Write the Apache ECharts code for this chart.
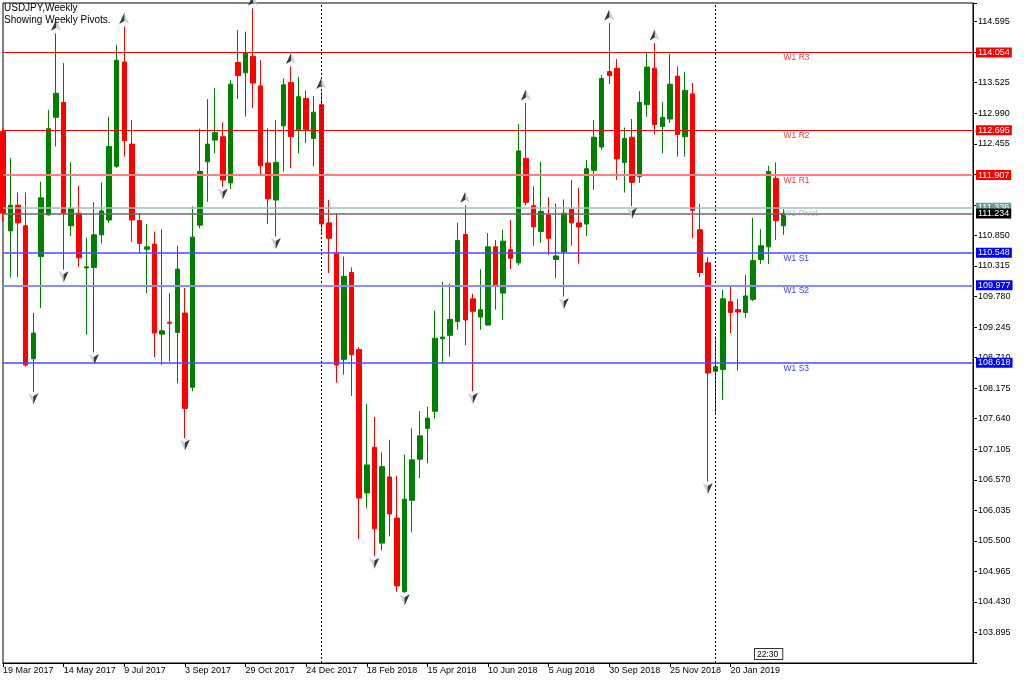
<!DOCTYPE html>
<html><head><meta charset="utf-8">
<script src="https://cdn.jsdelivr.net/npm/echarts@6.0.0/dist/echarts.min.js"></script>
<style>html,body{margin:0;padding:0;background:#fff}#c{width:1024px;height:683px}</style>
</head><body><div id="c"></div><script>
// ---- data ----
const weekCount = 129;
const xTickLabels = ['19 Mar 2017','14 May 2017','9 Jul 2017','3 Sep 2017','29 Oct 2017','24 Dec 2017','18 Feb 2018','15 Apr 2018','10 Jun 2018','5 Aug 2018','30 Sep 2018','25 Nov 2018','20 Jan 2019'];
const separatorWeeks = ['7 Jan 2018','6 Jan 2019'];
const yTickLabels = ['103.895','104.430','104.965','105.500','106.035','106.570','107.105','107.640','108.175','108.710','109.245','109.780','110.315','110.850','112.455','112.990','113.525','114.595'];

const open = [112.67,110.93,111.38,111.02,108.69,110.48,111.21,112.92,113.18,111.02,
111.24,110.28,110.29,110.86,111.12,112.06,113.89,112.45,111.11,110.61,
110.70,109.12,109.33,109.15,109.49,108.19,111.03,112.14,112.52,112.58,
111.77,113.88,113.70,113.99,113.47,112.12,111.47,112.77,113.53,112.70,
113.25,112.55,113.14,111.07,110.54,108.68,110.20,108.85,106.34,107.14,
105.46,106.62,105.90,104.61,106.21,106.93,107.47,107.77,109.04,109.10,
109.34,110.87,109.74,109.42,109.28,110.65,109.84,110.60,110.37,112.20,
111.37,110.92,111.21,110.43,110.56,111.31,111.07,111.05,111.99,112.40,
113.72,113.78,112.13,112.57,111.88,113.14,113.78,112.76,112.89,113.64,
112.58,113.33,110.95,110.37,108.47,108.50,109.69,109.55,109.50,109.73,
110.43,110.65,111.85,111.02];
const high = [112.73,112.21,111.60,111.60,109.49,111.79,113.05,114.39,113.87,112.13,
111.72,110.81,111.43,111.78,112.93,114.19,114.51,112.87,111.24,111.05,
110.92,110.96,109.84,110.67,109.93,111.36,112.72,113.24,113.43,112.83,
113.57,114.45,114.42,114.83,113.92,112.73,112.87,113.60,113.81,113.63,
113.39,113.29,113.37,111.47,111.24,110.48,110.29,108.89,107.90,107.67,
107.05,107.27,106.64,107.01,107.47,107.77,107.85,109.53,110.04,110.01,
111.07,111.38,109.83,110.26,110.89,110.77,110.95,111.12,112.80,113.17,
111.71,112.14,111.52,111.41,111.48,111.82,111.68,112.17,112.87,113.66,
114.57,113.94,112.74,112.89,113.38,114.06,114.22,113.19,114.03,113.81,
113.72,113.52,111.40,110.47,109.08,109.90,109.98,109.74,110.16,111.16,
110.96,112.07,112.13,111.31];
const low = [111.10,110.11,110.12,108.55,108.11,109.58,111.20,112.41,110.25,110.84,
110.30,109.11,108.80,110.71,111.07,112.03,112.23,110.74,110.54,109.84,
108.72,108.58,108.64,108.26,107.30,108.12,110.98,111.44,112.29,111.70,
111.66,113.24,112.93,113.08,111.91,111.05,110.83,111.97,112.03,112.29,
112.47,112.06,110.89,110.19,108.27,108.41,108.04,105.53,106.07,105.23,
105.33,105.58,104.61,104.59,105.65,106.60,106.86,107.64,108.62,108.73,
109.20,108.93,108.12,109.20,109.27,109.55,109.37,110.26,110.33,111.38,
110.67,110.72,110.51,110.10,109.78,110.67,110.36,110.84,111.65,112.35,
113.50,111.82,111.60,111.36,111.77,112.93,112.62,112.29,112.82,112.23,
112.23,110.80,110.12,106.54,107.74,107.97,109.14,108.48,109.41,109.70,
110.35,110.35,110.77,110.86];
const close = [111.24,111.38,111.07,108.58,109.14,111.51,112.72,113.34,111.24,111.32,
110.46,110.30,110.86,111.28,112.41,113.92,112.51,111.12,110.71,110.65,
109.14,109.18,109.31,110.26,107.82,110.82,111.97,112.45,112.65,111.82,
113.50,113.65,114.05,113.52,112.07,111.49,112.13,113.49,112.58,113.28,
112.70,113.01,111.05,110.80,108.58,110.13,108.76,106.25,106.83,105.71,
106.80,105.97,104.71,106.23,106.92,107.34,107.65,109.05,109.07,109.38,
110.76,109.37,109.52,109.55,110.65,109.97,110.75,110.45,112.33,111.43,
111.00,111.27,110.80,110.49,111.24,111.07,111.00,112.02,112.57,113.60,
113.65,112.19,112.55,111.78,113.18,113.80,112.79,112.92,113.50,112.62,
113.39,111.29,110.20,108.44,108.55,109.74,109.50,109.51,109.79,110.41,
110.67,111.97,111.11,111.234];

const fractalUp = [7,16,33,38,42,61,69,80,86];
const fractalDown = [4,8,12,24,29,36,49,53,62,74,83,93];

const pivotNames  = ['W1 R3','W1 R2','W1 R1','W1 Pivot','W1 S1','W1 S2','W1 S3'];
const pivotValues = [114.054,112.695,111.907,111.336,110.548,109.977,108.618];
const currentPrice = 111.234;
const titleLines = ['USDJPY,Weekly','Showing Weekly Pivots.'];
const timeLabel = '22:30';

// ---- styles ----
const pivotLine  = ['#ff0000','#ff0000','#ff7d7d','#9ec0c0','#4a4aff','#8c8cff','#4a4aff'];
const pivotWidth = [1,1,2,1.5,1.5,2,1.5];
const pivotBox   = ['#ff0000','#ff0000','#ff0000','#6a9c9c','#0000ff','#0000ff','#0000ff'];
const pivotText  = ['#ff0000','#ff0000','#ff0000','#8fb0b0','#0000ff','#0000ff','#0000ff'];
const FONT = "'Liberation Sans', Arial, sans-serif";

// categories: weekly bar dates starting 19 Mar 2017
const months = ['Jan','Feb','Mar','Apr','May','Jun','Jul','Aug','Sep','Oct','Nov','Dec'];
const categories = [];
const t0 = Date.UTC(2017, 2, 19);
for (let k = 0; k < weekCount; k++) {
  const d = new Date(t0 + k * 7 * 86400000);
  categories.push(d.getUTCDate() + ' ' + months[d.getUTCMonth()] + ' ' + d.getUTCFullYear());
}
const xTickSet = new Set(xTickLabels);
const yTickSet = new Set(yTickLabels);

const candles = open.map((o, i) => [o, close[i], low[i], high[i]]);

function boxLabel(v, bg) {
  return {show: true, position: 'end', distance: 3, formatter: v.toFixed(3),
    color: '#fff', backgroundColor: bg, padding: [1, 2, 0, 2], fontSize: 9, fontFamily: FONT};
}
const markLines = [];
separatorWeeks.forEach(w => {
  markLines.push({xAxis: w, lineStyle: {color: '#000', width: 1, type: [2, 2], opacity: 1}, label: {show: false}});
});
pivotValues.forEach((v, i) => {
  markLines.push({
    yAxis: v, name: pivotNames[i],
    lineStyle: {color: pivotLine[i], width: pivotWidth[i], type: 'solid', opacity: 1},
    label: boxLabel(v, pivotBox[i])
  });
});
markLines.push({
  yAxis: currentPrice, name: 'price',
  lineStyle: {color: '#6a6a6a', width: 1.5, type: 'solid', opacity: 1},
  label: boxLabel(currentPrice, '#000')
});

const upFull = 'path://M5,0 L10,11 L5,8 L0,11 Z';
const upHalf = 'path://M5,0 L5,8 L0,11 Z';
const dnFull = 'path://M0,0 L5,3 L10,0 L5,11 Z';
const dnHalf = 'path://M5,3 L10,0 L5,11 Z';

const chart = echarts.init(document.getElementById('c'), null, {renderer: 'canvas'});
chart.setOption({
  animation: false,
  backgroundColor: '#fff',
  title: {
    text: titleLines.join('\n'), left: 4, top: 2, padding: 0,
    textStyle: {fontSize: 10, fontWeight: 'normal', color: '#000', lineHeight: 12, fontFamily: FONT}
  },
  grid: {left: 3, right: 51, top: 3, bottom: 20, show: true, borderColor: '#000', borderWidth: 1, backgroundColor: '#fff'},
  xAxis: {
    type: 'category', data: categories, boundaryGap: false,
    axisLine: {lineStyle: {color: '#000', width: 1}},
    axisTick: {show: true, length: 4, interval: (i, v) => xTickSet.has(v), lineStyle: {color: '#000'}},
    axisLabel: {interval: (i, v) => xTickSet.has(v), align: 'left', margin: 3, color: '#000', fontSize: 9, fontFamily: FONT},
    splitLine: {show: false}
  },
  yAxis: {
    type: 'value', position: 'right', min: 103.36, max: 114.922, interval: 0.535, scale: true,
    axisLine: {show: true, lineStyle: {color: '#000', width: 1}},
    axisTick: {show: true, length: 4, lineStyle: {color: '#000'}},
    axisLabel: {margin: 5, color: '#000', fontSize: 9, fontFamily: FONT,
      formatter: v => { const s = v.toFixed(3); return yTickSet.has(s) ? s : ''; }},
    splitLine: {show: false}
  },
  series: [
    {
      name: 'USDJPY', type: 'candlestick', data: candles, barWidth: 5,
      itemStyle: {color: '#008000', color0: '#ff0000', borderColor: '#008000', borderColor0: '#ff0000', borderWidth: 1}
    },
    {
      type: 'scatter', silent: true, symbol: upFull, symbolSize: [10, 11], symbolOffset: [0, -8],
      itemStyle: {color: '#b9c3cf'}, data: fractalUp.map(i => [i, high[i]]), z: 5
    },
    {
      type: 'scatter', silent: true, symbol: upHalf, symbolSize: [5, 11], symbolOffset: [-2.5, -8],
      itemStyle: {color: '#111'}, data: fractalUp.map(i => [i, high[i]]), z: 6
    },
    {
      type: 'scatter', silent: true, symbol: dnFull, symbolSize: [10, 11], symbolOffset: [0, 7],
      itemStyle: {color: '#b9c3cf'}, data: fractalDown.map(i => [i, low[i]]), z: 5
    },
    {
      type: 'scatter', silent: true, symbol: dnHalf, symbolSize: [5, 11], symbolOffset: [2.5, 7],
      itemStyle: {color: '#111'}, data: fractalDown.map(i => [i, low[i]]), z: 6
    },
    {
      name: 'pivots', type: 'scatter', silent: true, symbolSize: 0, z: 7,
      itemStyle: {color: '#ff0000'},
      data: pivotValues.map((v, i) => ({value: [open.length - 1, v], name: pivotNames[i],
        label: {color: pivotText[i]}})),
      label: {show: true, position: [0, 1], formatter: p => p.name, fontSize: 8.5, fontFamily: FONT, align: 'left', verticalAlign: 'top'},
      markLine: {symbol: ['none', 'none'], silent: true, animation: false, precision: 3, data: markLines}
    }
  ],
  graphic: [
    {type: 'text', left: 754, top: 648, z: 100,
      style: {text: timeLabel, fill: '#000', font: '8.5px ' + FONT, backgroundColor: '#fff',
        borderColor: '#333', borderWidth: 1, padding: [1, 4, 0, 2]}}
  ]
});
</script></body></html>
